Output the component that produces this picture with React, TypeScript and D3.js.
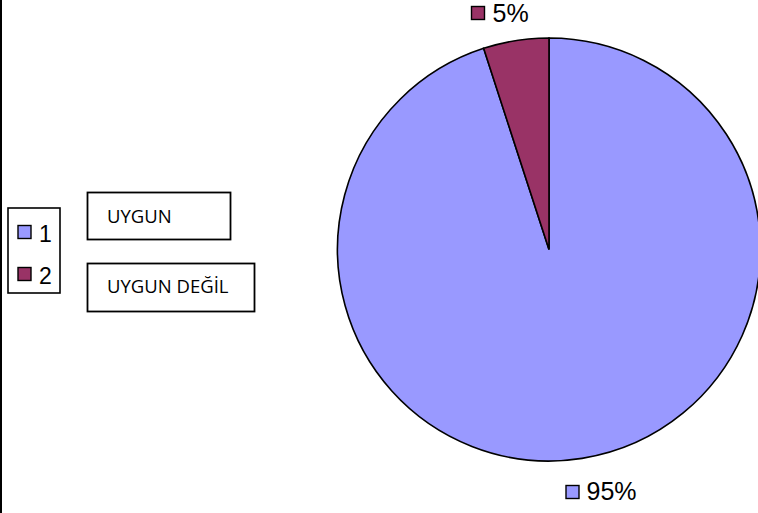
import React from "react";
import * as d3 from "d3";

const categories = ["1", "2"];
const values = [95, 5];
const labels = ["95%", "5%"];
const colors = ["#9999FF", "#993366"];
const boxTexts = ["UYGUN", "UYGUN DEĞİL"];

export default function App() {
  const W = 758, H = 513;
  const cx = 549, cy = 249.5, r = 211.5;
  const pie = d3.pie<number>().sort(null).value((d) => d);
  const arcs = pie(values);
  const arc = d3.arc<d3.PieArcDatum<number>>().innerRadius(0).outerRadius(r);
  return (
    <svg width={W} height={H} style={{ position: "absolute", left: 0, top: 0 }}>
      <rect x={0} y={0} width={W} height={H} fill="#fff" />
      <line x1={1} y1={0} x2={1} y2={H} stroke="#000" strokeWidth={2} />
      <g transform={`translate(${cx},${cy})`}>
        {arcs.map((a, i) => (
          <path key={i} d={arc(a) || ""} fill={colors[i]} stroke="#000" strokeWidth={1.6} />
        ))}
      </g>
      {/* data labels */}
      <g fontFamily="Liberation Sans, Arial, sans-serif" fontSize={25}>
        <rect x={471.5} y={6.5} width={13} height={13} fill={colors[1]} stroke="#000" strokeWidth={1.4} />
        <text x={492.5} y={22}>{labels[1]}</text>
        <rect x={566} y={485.5} width={13} height={13} fill={colors[0]} stroke="#000" strokeWidth={1.4} />
        <text x={586.5} y={500}>{labels[0]}</text>
      </g>
      {/* legend */}
      <g fontFamily="Liberation Sans, Arial, sans-serif" fontSize={23}>
        <rect x={8} y={208} width={52} height={85} fill="#fff" stroke="#000" strokeWidth={1.6} />
        {categories.map((c, i) => (
          <g key={c}>
            <rect x={18} y={225.5 + i * 42} width={13} height={13} fill={colors[i]} stroke="#000" strokeWidth={1.4} />
            <text x={39} y={241.5 + i * 42}>{c}</text>
          </g>
        ))}
      </g>
      <g fontFamily="Open Sans, Lato, sans-serif" fontSize={18.5}>
        <rect x={87.5} y={192.5} width={143} height={47} fill="#fff" stroke="#000" strokeWidth={1.8} />
        <text x={107} y={223}>{boxTexts[0]}</text>
        <rect x={87.5} y={263.5} width={167} height={48} fill="#fff" stroke="#000" strokeWidth={1.8} />
        <text x={107} y={293}>{boxTexts[1]}</text>
      </g>
    </svg>
  );
}
